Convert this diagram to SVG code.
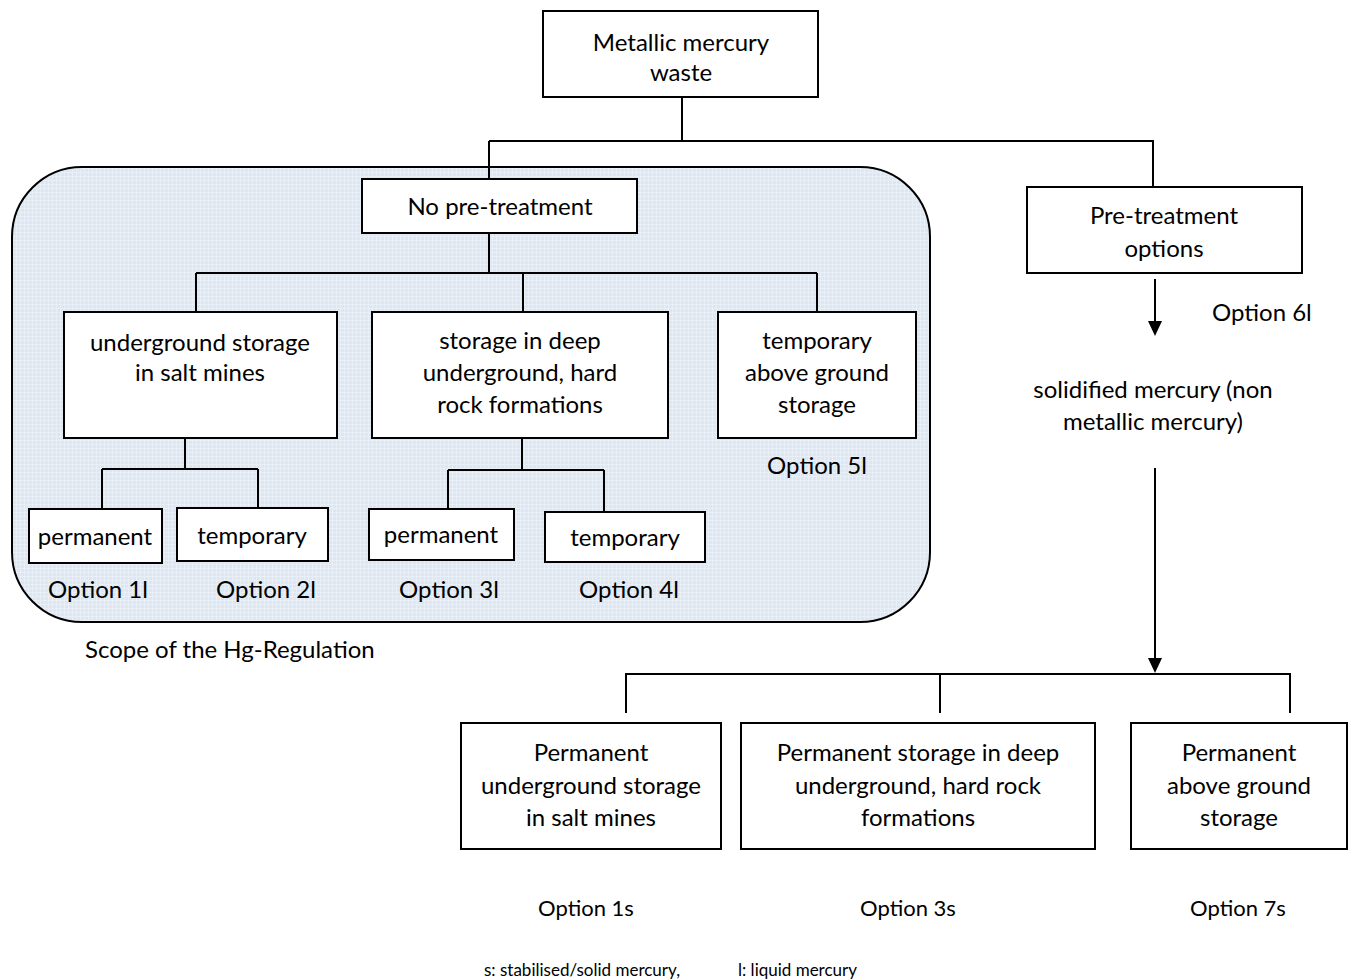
<svg xmlns="http://www.w3.org/2000/svg" width="1349" height="980" viewBox="0 0 1349 980">
<defs>
<pattern id="grid" width="4" height="4" patternUnits="userSpaceOnUse">
<rect width="4" height="4" fill="#dde6f1"/>
<path d="M0 0.5H4M0.5 0V4" stroke="#e9eff7" stroke-width="1"/>
</pattern>
</defs>
<style>
.box{fill:#fff;stroke:#000;stroke-width:2}
.ln{fill:none;stroke:#000;stroke-width:2}
text{font-family:Lato,"Liberation Sans",sans-serif;font-size:24px;fill:#000}
.c{text-anchor:middle}
.sm{font-size:22px}
.ft{font-size:17px}
</style>
<rect id="scope" x="12" y="167" width="918" height="455" rx="70" ry="70" fill="url(#grid)" stroke="#000" stroke-width="2"/>
<g id="connectors">
<path class="ln" d="M682 97V141M489 141H1153V187M489 141V179"/>
<path class="ln" d="M489 233V273M196 273H817M196 273V312M523 273V312M817 273V312"/>
<path class="ln" d="M185 438V469M102 469H258M102 469V509M258 469V508"/>
<path class="ln" d="M522 438V470M448 470H604M448 470V509M604 470V512"/>
<path class="ln" d="M1155 279V322"/>
<path d="M1148 321H1162L1155 336Z" fill="#000"/>
<path class="ln" d="M1155 468V659"/>
<path d="M1148 658H1162L1155 673Z" fill="#000"/>
<path class="ln" d="M626 713V674H1290V713M940 674V713"/>
</g>
<g id="n-metallic"><rect class="box" x="543" y="11" width="275" height="86"/><text class="c" x="681" y="51">Metallic mercury</text><text class="c" x="681" y="81">waste</text></g>
<g id="n-nopre"><rect class="box" x="362" y="179" width="275" height="54"/><text class="c" x="500" y="215">No pre-treatment</text></g>
<g id="n-pre"><rect class="box" x="1027" y="187" width="275" height="86"/><text class="c" x="1164" y="224">Pre-treatment</text><text class="c" x="1164" y="257">options</text></g>
<g id="n-salt"><rect class="box" x="64" y="312" width="273" height="126"/><text class="c" x="200" y="351">underground storage</text><text class="c" x="200" y="381">in salt mines</text></g>
<g id="n-deep"><rect class="box" x="372" y="312" width="296" height="126"/><text class="c" x="520" y="349">storage in deep</text><text class="c" x="520" y="381">underground, hard</text><text class="c" x="520" y="413">rock formations</text></g>
<g id="n-above"><rect class="box" x="718" y="312" width="198" height="126"/><text class="c" x="817" y="349">temporary</text><text class="c" x="817" y="381">above ground</text><text class="c" x="817" y="413">storage</text></g>
<g id="n-perm1"><rect class="box" x="29" y="509" width="133" height="54"/><text class="c" x="95" y="545">permanent</text></g>
<g id="n-temp1"><rect class="box" x="177" y="508" width="151" height="53"/><text class="c" x="252" y="544">temporary</text></g>
<g id="n-perm2"><rect class="box" x="369" y="509" width="145" height="51"/><text class="c" x="441" y="543">permanent</text></g>
<g id="n-temp2"><rect class="box" x="545" y="512" width="160" height="50"/><text class="c" x="625" y="546">temporary</text></g>
<g id="n-p1s"><rect class="box" x="461" y="723" width="260" height="126"/><text class="c" x="591" y="761">Permanent</text><text class="c" x="591" y="794">underground storage</text><text class="c" x="591" y="826">in salt mines</text></g>
<g id="n-p3s"><rect class="box" x="741" y="723" width="354" height="126"/><text class="c" x="918" y="761">Permanent storage in deep</text><text class="c" x="918" y="794">underground, hard rock</text><text class="c" x="918" y="826">formations</text></g>
<g id="n-p7s"><rect class="box" x="1131" y="723" width="216" height="126"/><text class="c" x="1239" y="761">Permanent</text><text class="c" x="1239" y="794">above ground</text><text class="c" x="1239" y="826">storage</text></g>
<g id="labels">
<text x="1212" y="321">Option 6l</text>
<text class="c" x="1153" y="398">solidified mercury (non</text>
<text class="c" x="1153" y="430">metallic mercury)</text>
<text class="c" x="817" y="474">Option 5l</text>
<text class="c" x="98" y="598">Option 1l</text>
<text class="c" x="266" y="598">Option 2l</text>
<text class="c" x="449" y="598">Option 3l</text>
<text class="c" x="629" y="598">Option 4l</text>
<text x="85" y="658">Scope of the Hg-Regulation</text>
<text class="c sm" x="586" y="916">Option 1s</text>
<text class="c sm" x="908" y="916">Option 3s</text>
<text class="c sm" x="1238" y="916">Option 7s</text>
<text class="ft" x="484" y="976">s: stabilised/solid mercury,</text>
<text class="ft" x="738" y="976">l: liquid mercury</text>
</g>
</svg>
